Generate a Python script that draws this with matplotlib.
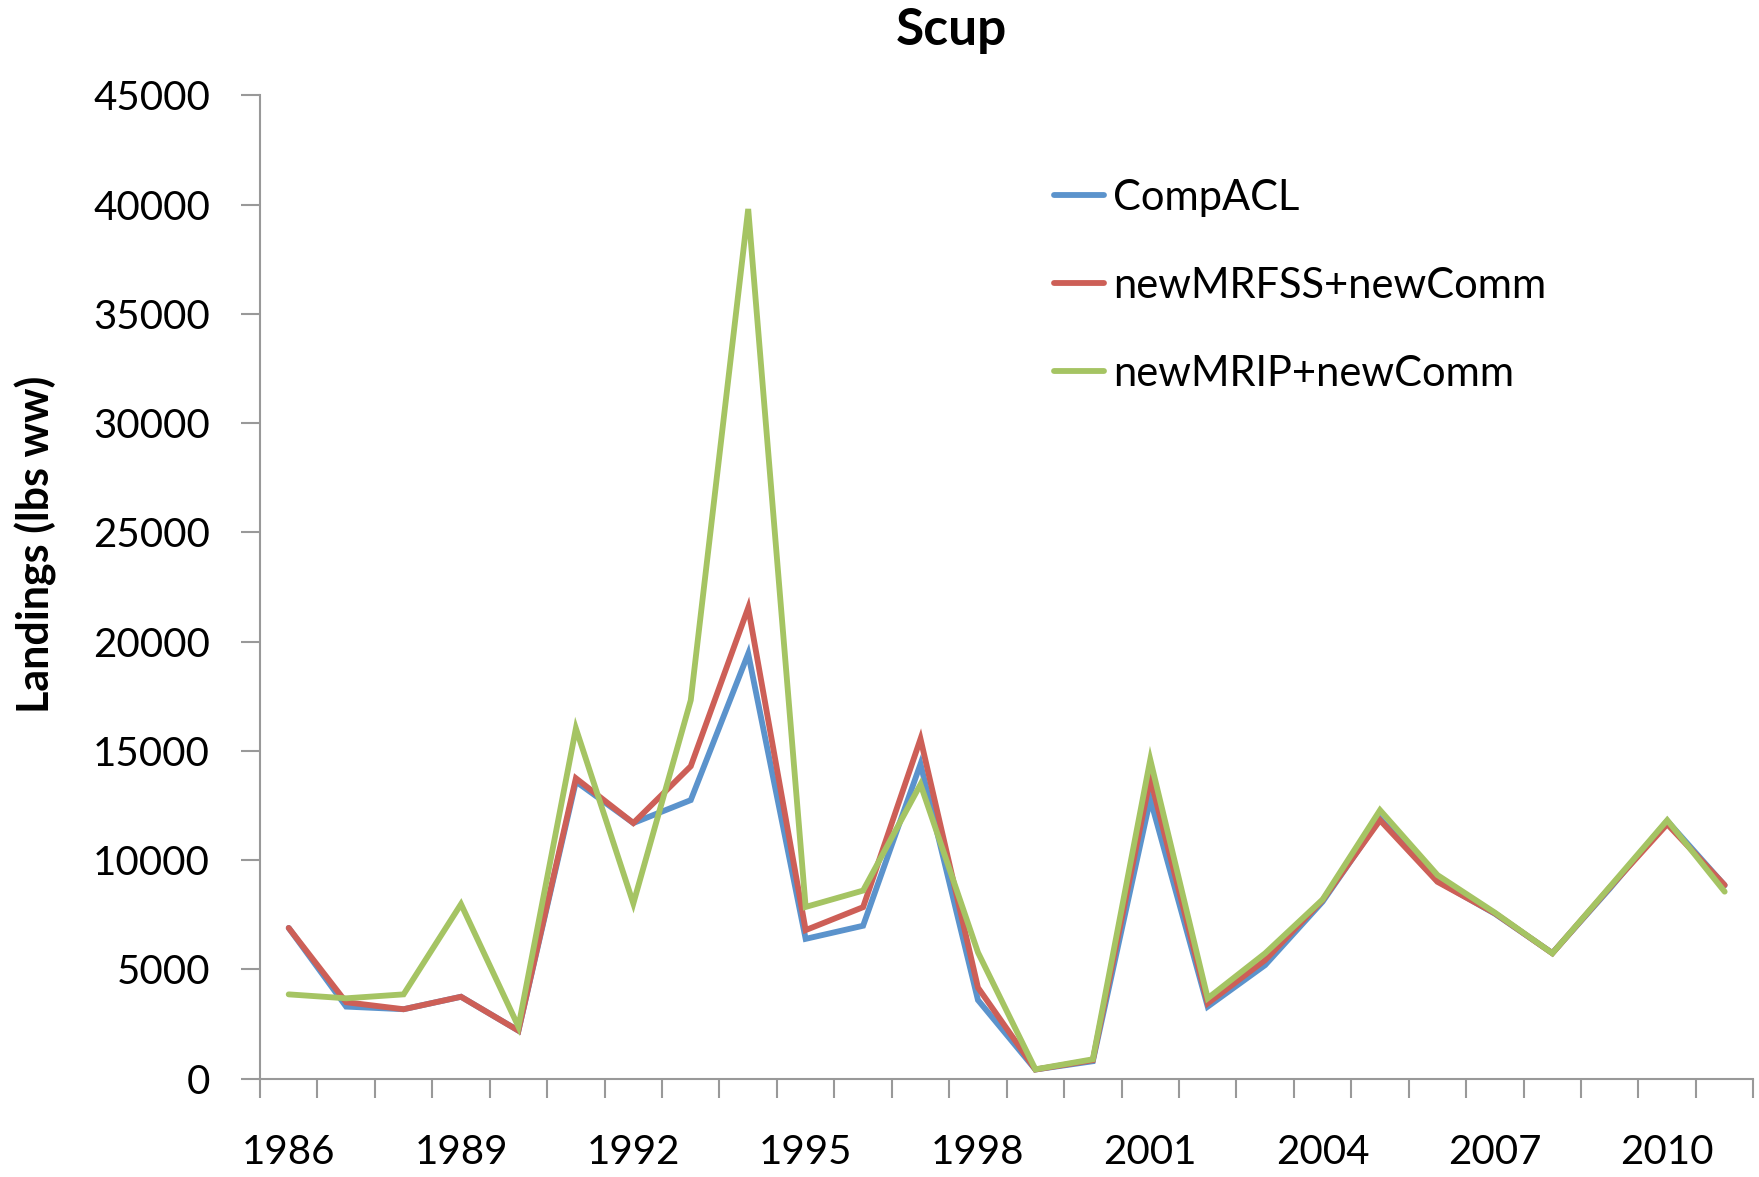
import numpy as np
import matplotlib.pyplot as plt

# ---- data ----
years = list(range(1986, 2012))
comp_acl = [6900, 3300, 3180, 3750, 2200, 13600, 11700, 12750, 19450, 6400,
            7000, 14400, 3600, 420, 800, 12800, 3300, 5200, 8100, 11900,
            9050, 7550, 5750, 8700, 11800, 8850]
new_mrfss = [6900, 3500, 3180, 3750, 2200, 13750, 11700, 14300, 21550, 6800,
             7850, 15550, 4170, 420, 850, 13750, 3450, 5430, 8175, 11830,
             9010, 7570, 5740, 8750, 11650, 8860]
new_mrip = [3860, 3680, 3860, 7990, 2380, 16030, 8020, 17320, 39800, 7860,
            8610, 13470, 5780, 430, 890, 14600, 3680, 5740, 8200, 12290,
            9320, 7600, 5740, 8780, 11830, 8560]
series_names = ["CompACL", "newMRFSS+newComm", "newMRIP+newComm"]
series_colors = ["#5B93CC", "#CD5F57", "#A5C463"]

plt.rcParams['font.family'] = ['Lato', 'DejaVu Sans']

fig = plt.figure(figsize=(17.59, 11.77), dpi=100)
ax = fig.add_axes([0.1478, 0.0835, 0.849, 0.8355])

x = np.arange(len(years))
for vals, name, col in zip([comp_acl, new_mrfss, new_mrip], series_names, series_colors):
    ax.plot(x, vals, color=col, lw=4.2, label=name, solid_joinstyle='miter',
            solid_capstyle='round')

ax.set_xlim(-0.5, len(years) - 0.5)
ax.set_ylim(0, 45000)
ax.set_yticks(np.arange(0, 45001, 5000))
ax.set_yticklabels([str(v) for v in range(0, 45001, 5000)], fontsize=29)

ax.set_xticks(x[::3])
ax.set_xticklabels([str(y) for y in years[::3]], fontsize=29)
ax.set_xticks(np.arange(-0.5, len(years), 1), minor=True)
ax.tick_params(axis='x', which='major', length=0, pad=40)
ax.tick_params(axis='x', which='minor', length=14, width=1.5, color='#999999', direction='out')
ax.tick_params(axis='y', length=14, width=1.5, color='#999999', direction='out', pad=22)

for s in ['top', 'right']:
    ax.spines[s].set_visible(False)
for s in ['left', 'bottom']:
    ax.spines[s].set_color('#999999')
    ax.spines[s].set_linewidth(1.5)

fig.text(0.541, 0.974, "Scup", fontsize=37, fontweight='bold', ha='center', va='center')
ax.set_ylabel("Landings (lbs ww)", fontsize=31, fontweight='bold')
ax.yaxis.set_label_coords(-0.136, 0.543)

ax.legend(loc='upper left', bbox_to_anchor=(0.532, 0.915), frameon=False, fontsize=30,
          handlelength=1.2, handletextpad=0.2, labelspacing=1.2,
          borderpad=0, borderaxespad=0)

fig.savefig("out.png", dpi=100)
